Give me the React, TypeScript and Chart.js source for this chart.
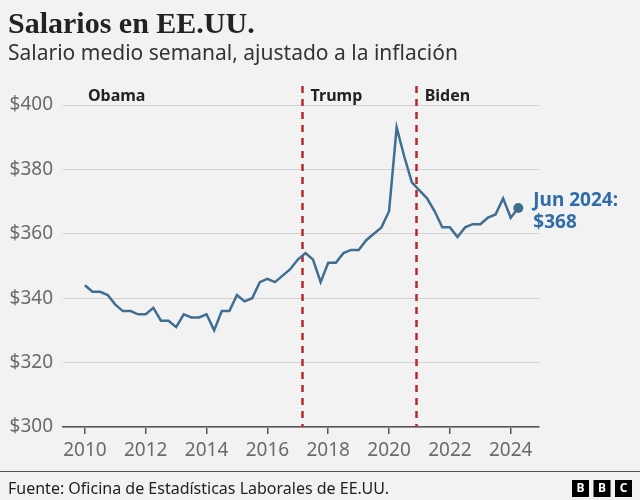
import React, { useEffect, useRef } from 'react';
import { Chart, registerables } from 'chart.js';

Chart.register(...registerables);

// Quarterly data, 2010 Q1 .. 2024 Q2
const startYear = 2010;
const wages = [
  344, 342, 342, 341, 338, 336, 336, 335, 335, 337,
  333, 333, 331, 335, 334, 334, 335, 330, 336, 336,
  341, 339, 340, 345, 346, 345, 347, 349, 352, 354,
  352, 345, 351, 351, 354, 355, 355, 358, 360, 362,
  367, 393, 384, 376, 373.5, 371, 367, 362, 362, 359,
  362, 363, 363, 365, 366, 371, 365, 368,
];
const quarterTimes = wages.map((_, i) => startYear + i / 4);

const xTicks = [2010, 2012, 2014, 2016, 2018, 2020, 2022, 2024];
const xTickLabels = ['2010', '2012', '2014', '2016', '2018', '2020', '2022', '2024'];
const yTicks = [300, 320, 340, 360, 380, 400];
const yTickLabels = ['$300', '$320', '$340', '$360', '$380', '$400'];

const eraNames = ['Obama', 'Trump', 'Biden'];
const eraStarts = [2009.3, 2017.125, 2020.875];
const eraDashed = [false, true, true];

const TITLE = 'Salarios en EE.UU.';
const SUBTITLE = 'Salario medio semanal, ajustado a la inflación';
const SOURCE = 'Fuente: Oficina de Estadísticas Laborales de EE.UU.';
const LAST_LABEL = ['Jun 2024:', '$368'];

const BG = '#f3f2f2';
const LINE = '#3f6e91';
const LABEL_BLUE = '#2f6da8';
const RED = '#b8282d';
const SANS = '"Noto Sans", sans-serif';

export default function App() {
  const ref = useRef<HTMLCanvasElement>(null);

  useEffect(() => {
    document.body.style.margin = '0';
    const canvas = ref.current!;

    const bgPlugin = {
      id: 'bg',
      beforeDraw(chart: any) {
        const c = chart.ctx;
        c.save();
        c.fillStyle = BG;
        c.fillRect(0, 0, chart.width, chart.height);
        c.restore();
      },
    };

    const decorPlugin = {
      id: 'decor',
      beforeDatasetsDraw(chart: any) {
        const c = chart.ctx;
        const xs = chart.scales.x;
        const area = chart.chartArea;
        c.save();
        c.strokeStyle = RED;
        c.lineWidth = 2.5;
        c.setLineDash([7, 6]);
        eraStarts.forEach((v, i) => {
          if (!eraDashed[i]) return;
          const px = Math.round(xs.getPixelForValue(v)) + 0.5;
          c.beginPath();
          c.moveTo(px, 86);
          c.lineTo(px, area.bottom);
          c.stroke();
        });
        c.restore();
      },
      afterDraw(chart: any) {
        const c = chart.ctx;
        const xs = chart.scales.x;
        const ys = chart.scales.y;
        c.save();
        // era labels
        c.fillStyle = '#222';
        c.font = `bold 16px ${SANS}`;
        c.textBaseline = 'middle';
        c.textAlign = 'left';
        eraStarts.forEach((v, i) => {
          const px = i === 0 ? xs.getPixelForValue(2010) + 3 : xs.getPixelForValue(v) + 9;
          c.fillText(eraNames[i], px, 96);
        });
        // last value annotation
        const lastX = xs.getPixelForValue(quarterTimes[quarterTimes.length - 1]);
        const lastY = ys.getPixelForValue(wages[wages.length - 1]);
        c.fillStyle = LABEL_BLUE;
        c.font = `bold 19px ${SANS}`;
        c.fillText(LAST_LABEL[0], lastX + 15, lastY - 7);
        c.fillText(LAST_LABEL[1], lastX + 15, lastY + 15);
        // title
        c.fillStyle = '#222';
        c.textBaseline = 'alphabetic';
        c.font = `bold 30px "Liberation Serif", serif`;
        c.fillText(TITLE, 8, 33);
        c.fillStyle = '#333';
        c.font = `21px ${SANS}`;
        c.fillText(SUBTITLE, 8, 60);
        // footer
        c.strokeStyle = '#555';
        c.lineWidth = 1;
        c.beginPath();
        c.moveTo(0, 471.5);
        c.lineTo(640, 471.5);
        c.stroke();
        c.fillStyle = '#222';
        c.font = `16px ${SANS}`;
        c.fillText(SOURCE, 8, 494);
        // BBC logo
        const letters = ['B', 'B', 'C'];
        letters.forEach((l, i) => {
          const x0 = 572 + i * 21.5;
          c.fillStyle = '#000';
          c.fillRect(x0, 480, 17, 17);
          c.fillStyle = '#fff';
          c.font = `bold 12px ${SANS}`;
          c.textAlign = 'center';
          c.textBaseline = 'middle';
          c.fillText(l, x0 + 8.5, 489);
        });
        c.restore();
      },
    };

    const chart = new Chart(canvas, {
      type: 'line',
      data: {
        datasets: [
          {
            data: wages.map((v, i) => ({ x: quarterTimes[i], y: v })),
            borderColor: LINE,
            borderWidth: 2.5,
            tension: 0,
            pointRadius: (ctx: any) => (ctx.dataIndex === wages.length - 1 ? 5 : 0),
            pointBackgroundColor: LINE,
            pointBorderWidth: 0,
            clip: false as any,
          },
        ],
      },
      options: {
        animation: false,
        responsive: false,
        events: [],
        layout: { padding: { top: 105, right: 101, bottom: 0, left: 0 } },
        plugins: { legend: { display: false }, tooltip: { enabled: false } },
        scales: {
          x: {
            type: 'linear',
            min: 2009.28,
            max: 2024.93,
            afterFit: (s: any) => { s.height = 73; },
            afterBuildTicks: (s: any) => { s.ticks = xTicks.map((v) => ({ value: v })); },
            grid: { drawOnChartArea: false, drawTicks: true, tickLength: 7, color: '#555', lineWidth: 1.5 },
            border: { display: true, color: '#555', width: 1.5 },
            ticks: {
              padding: 5,
              color: '#6b6b6b',
              font: { family: SANS, size: 19 },
              maxRotation: 0,
              autoSkip: false,
              callback: (v: any) => xTickLabels[xTicks.indexOf(Number(v))] ?? '',
            },
          },
          y: {
            min: 300,
            max: 400,
            afterFit: (s: any) => { s.width = 63; },
            afterBuildTicks: (s: any) => { s.ticks = yTicks.map((v) => ({ value: v })); },
            grid: { drawTicks: false, color: '#d3d1d1', lineWidth: 1 },
            border: { display: false },
            ticks: {
              padding: 10,
              color: '#6b6b6b',
              font: { family: SANS, size: 19 },
              callback: (v: any) => yTickLabels[yTicks.indexOf(Number(v))] ?? '',
            },
          },
        },
      },
      plugins: [bgPlugin, decorPlugin],
    });
    return () => chart.destroy();
  }, []);

  return <canvas ref={ref} width={640} height={500} style={{ display: 'block' }} />;
}
